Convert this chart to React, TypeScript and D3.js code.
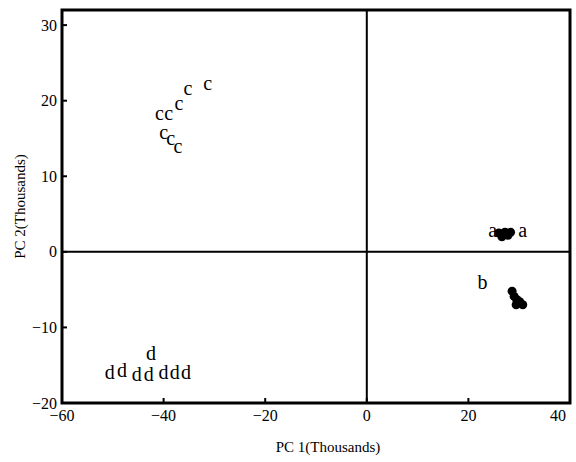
import React from 'react';
import { scaleLinear } from 'd3';

// group labels and their PC scores (thousands)
// letters that stand apart are drawn as text, the clumped ones as a blot
const groupA = [
	[24.8, 2.9],
	[30.7, 2.9],
];
const groupAClump = [
	[26.0, 2.5],
	[26.6, 2.0],
	[27.2, 2.6],
	[27.8, 2.2],
	[28.3, 2.6],
];
const groupB = [[22.8, -4.0]];
const groupBClump = [
	[28.6, -5.2],
	[29.0, -5.9],
	[29.5, -6.3],
	[30.1, -6.6],
	[30.7, -7.0],
	[29.4, -7.0],
];
const groupC = [
	[-31.3, 22.4],
	[-35.2, 21.7],
	[-37.0, 19.7],
	[-39.0, 18.4],
	[-40.8, 18.4],
	[-40.0, 15.9],
	[-38.6, 15.0],
	[-37.2, 14.0],
];
const groupD = [
	[-50.6, -15.9],
	[-48.2, -15.6],
	[-45.3, -16.2],
	[-42.9, -16.2],
	[-42.5, -13.4],
	[-40.0, -15.9],
	[-37.8, -15.9],
	[-35.6, -15.9],
];
const xTicks = [-60, -40, -20, 0, 20, 40];
const yTicks = [-20, -10, 0, 10, 20, 30];

const labelled = [
	{ label: 'a', pts: groupA },
	{ label: 'b', pts: groupB },
	{ label: 'c', pts: groupC },
	{ label: 'd', pts: groupD },
];

const fmt = (v: number) => (v < 0 ? `\u2212${Math.abs(v)}` : `${v}`);

export default function App() {
	const x = scaleLinear().domain([-60, 40]).range([62, 570]);
	const y = scaleLinear().domain([-20, 32]).range([403, 10]);
	const font = '"Liberation Serif", "DejaVu Serif", serif';

	return (
		<svg width={576} height={462} style={{ position: 'absolute', left: 0, top: 0, background: '#fff' }}>
			{/* zero lines */}
			<line x1={x(0)} x2={x(0)} y1={y(32)} y2={y(-20)} stroke="#000" strokeWidth={2} />
			<line x1={x(-60)} x2={x(40)} y1={y(0)} y2={y(0)} stroke="#000" strokeWidth={2} />

			{/* frame */}
			<rect
				x={x(-60)}
				y={y(32)}
				width={x(40) - x(-60)}
				height={y(-20) - y(32)}
				fill="none"
				stroke="#000"
				strokeWidth={3}
			/>

			{/* ticks */}
			{xTicks.map((t) => (
				<g key={'x' + t}>
					<line x1={x(t)} x2={x(t)} y1={y(-20)} y2={y(-20) - 5} stroke="#000" strokeWidth={2} />
					<text
						x={Math.min(x(t), 558)}
						y={y(-20) + 18}
						fontFamily={font}
						fontSize={16}
						textAnchor="middle">
						{fmt(t)}
					</text>
				</g>
			))}
			{yTicks.map((t) => (
				<g key={'y' + t}>
					<line x1={x(-60)} x2={x(-60) + 5} y1={y(t)} y2={y(t)} stroke="#000" strokeWidth={2} />
					<text
						x={x(-60) - 5}
						y={y(t)}
						fontFamily={font}
						fontSize={16}
						textAnchor="end"
						dominantBaseline="central">
						{fmt(t)}
					</text>
				</g>
			))}

			{/* axis titles */}
			<text x={328} y={452} fontFamily={font} fontSize={15} textAnchor="middle">
				PC 1(Thousands)
			</text>
			<text
				transform={`translate(20, ${y(6)}) rotate(-90)`}
				fontFamily={font}
				fontSize={15}
				textAnchor="middle"
				dominantBaseline="central">
				PC 2(Thousands)
			</text>

			{/* clumped points: overlapping letters print as a black blot */}
			{[...groupAClump, ...groupBClump].map(([px, py], i) => (
				<circle key={'blot' + i} cx={x(px)} cy={y(py)} r={4.5} fill="#000" />
			))}

			{/* points as letters */}
			{labelled.map((g) =>
				g.pts.map(([px, py], i) => (
					<text
						key={g.label + i}
						x={x(px)}
						y={y(py)}
						fontFamily={font}
						fontSize={20}
						textAnchor="middle"
						dominantBaseline="central"
						fill="#000">
						{g.label}
					</text>
				))
			)}
		</svg>
	);
}
